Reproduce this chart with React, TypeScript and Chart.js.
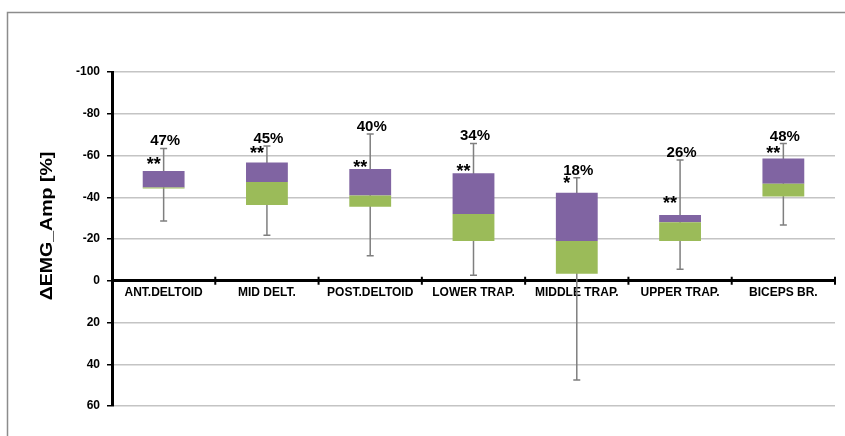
import React, { useEffect, useRef } from "react";
import { Chart, registerables } from "chart.js";

Chart.register(...registerables);

const categories = ["ANT.DELTOID", "MID DELT.", "POST.DELTOID", "LOWER TRAP.", "MIDDLE TRAP.", "UPPER TRAP.", "BICEPS BR."];
const whiskerLow = [-28.6, -21.8, -12.0, -2.6, 47.5, -5.5, -26.7];
const q1 = [-44.2, -36.3, -35.5, -19.0, -3.4, -19.0, -40.3];
const median = [-44.7, -47.3, -40.8, -32.0, -19.0, -28.0, -46.5];
const q3 = [-52.6, -56.6, -53.5, -51.5, -42.2, -31.5, -58.6];
const whiskerHigh = [-63.4, -64.5, -70.3, -65.8, -49.4, -57.8, -65.7];
const percentLabels = ["47%", "45%", "40%", "34%", "18%", "26%", "48%"];
const significance = ["**", "**", "**", "**", "*", "**", "**"];
const significanceLevel = [-57.8, -63.1, -56.4, -54.5, -48.7, -39.2, -63.1];
const yTicks = [-100, -80, -60, -40, -20, 0, 20, 40, 60];
const yTitle = "ΔEMG_Amp [%]";

const GREEN = "#9BBB59";
const PURPLE = "#8064A2";
const WHISKER = "#7f7f7f";

const overlay = {
  id: "overlay",
  beforeDraw(chart: any) {
    const ctx = chart.ctx;
    ctx.save();
    ctx.fillStyle = "#ffffff";
    ctx.fillRect(0, 0, chart.width, chart.height);
    ctx.strokeStyle = "#8c8c8c";
    ctx.lineWidth = 1.5;
    ctx.beginPath();
    ctx.moveTo(7.5, chart.height);
    ctx.lineTo(7.5, 12.5);
    ctx.lineTo(chart.width, 12.5);
    ctx.stroke();
    ctx.restore();
  },
  beforeDatasetsDraw(chart: any) {
    const ctx = chart.ctx;
    const xs = chart.scales.x;
    const ys = chart.scales.y;
    ctx.save();
    ctx.strokeStyle = WHISKER;
    ctx.lineWidth = 1.5;
    for (let i = 0; i < categories.length; i++) {
      const x = xs.getPixelForValue(i);
      const yl = ys.getPixelForValue(whiskerLow[i]);
      const yh = ys.getPixelForValue(whiskerHigh[i]);
      ctx.beginPath();
      ctx.moveTo(x, yl);
      ctx.lineTo(x, yh);
      ctx.moveTo(x - 3.5, yl);
      ctx.lineTo(x + 3.5, yl);
      ctx.moveTo(x - 3.5, yh);
      ctx.lineTo(x + 3.5, yh);
      ctx.stroke();
    }
    ctx.restore();
  },
  afterDraw(chart: any) {
    const ctx = chart.ctx;
    const xs = chart.scales.x;
    const ys = chart.scales.y;
    ctx.save();
    // x axis tick marks crossing the zero line
    const y0 = ys.getPixelForValue(0);
    ctx.strokeStyle = "#000";
    ctx.lineWidth = 2;
    for (let i = 0; i <= categories.length; i++) {
      const x = xs.getPixelForDecimal(i / categories.length);
      ctx.beginPath();
      ctx.moveTo(x, y0 - 4);
      ctx.lineTo(x, y0 + 4);
      ctx.stroke();
    }
    // percentage labels and significance marks
    ctx.fillStyle = "#000";
    for (let i = 0; i < categories.length; i++) {
      const x = xs.getPixelForValue(i);
      const yh = ys.getPixelForValue(whiskerHigh[i]);
      ctx.font = "bold 15px 'Liberation Sans', Arial, sans-serif";
      ctx.textAlign = "center";
      ctx.textBaseline = "alphabetic";
      ctx.fillText(percentLabels[i], x + 1.5, yh - 3);
      const ys2 = ys.getPixelForValue(significanceLevel[i]);
      ctx.font = "bold 18px 'Liberation Sans', Arial, sans-serif";
      ctx.fillText(significance[i], x - 10, ys2 + 0.57 * 18);
    }
    // y axis title
    ctx.translate(47, 226);
    ctx.rotate(-Math.PI / 2);
    ctx.scale(1.15, 1);
    ctx.font = "bold 17px 'Liberation Sans', Arial, sans-serif";
    ctx.textAlign = "center";
    ctx.textBaseline = "middle";
    ctx.fillText(yTitle, 0, 0);
    ctx.restore();
  },
};

export default function App() {
  const ref = useRef<HTMLCanvasElement | null>(null);
  useEffect(() => {
    if (!ref.current) return;
    const chart = new Chart(ref.current, {
      type: "bar",
      data: {
        labels: categories,
        datasets: [
          {
            label: "lower",
            data: q1.map((v, i) => [v, median[i]]) as any,
            backgroundColor: GREEN,
            borderColor: GREEN,
            borderWidth: 0,
            borderSkipped: false,
            grouped: false,
            barPercentage: 0.405,
            categoryPercentage: 1,
          } as any,
          {
            label: "upper",
            data: median.map((v, i) => [v, q3[i]]) as any,
            backgroundColor: PURPLE,
            borderColor: PURPLE,
            borderWidth: 0,
            borderSkipped: false,
            grouped: false,
            barPercentage: 0.405,
            categoryPercentage: 1,
          } as any,
        ],
      },
      options: {
        animation: false,
        responsive: false,
        maintainAspectRatio: false,
        layout: { padding: { top: 72, bottom: 30, right: 10, left: 0 } },
        plugins: { legend: { display: false }, tooltip: { enabled: false } },
        scales: {
          x: {
            type: "category",
            position: { y: 0 } as any,
            offset: true,
            grid: { display: true, drawOnChartArea: false, drawTicks: false },
            border: { display: true, color: "#000", width: 3 },
            ticks: {
              color: "#000",
              padding: 5,
              maxRotation: 0,
              autoSkip: false,
              font: { family: "'Liberation Sans', Arial, sans-serif", size: 12, weight: "bold" },
            },
          },
          y: {
            min: yTicks[0],
            max: yTicks[yTicks.length - 1],
            reverse: true,
            afterFit: (s: any) => {
              s.width = 112;
            },
            afterBuildTicks: (s: any) => {
              s.ticks = yTicks.map((v) => ({ value: v }));
            },
            ticks: {
              color: "#000",
              padding: 7,
              font: { family: "'Liberation Sans', Arial, sans-serif", size: 12, weight: "bold" },
            },
            grid: { color: "#c4c4c4", lineWidth: 1.5, tickColor: "#000", tickLength: 5 },
            border: { color: "#000", width: 3 },
          },
        },
      },
      plugins: [overlay],
    });
    return () => chart.destroy();
  }, []);
  return (
    <div style={{ position: "fixed", left: 0, top: 0, width: 845, height: 436, background: "#fff" }}>
      <canvas ref={ref} width={845} height={436} style={{ width: 845, height: 436, display: "block" }} />
    </div>
  );
}
